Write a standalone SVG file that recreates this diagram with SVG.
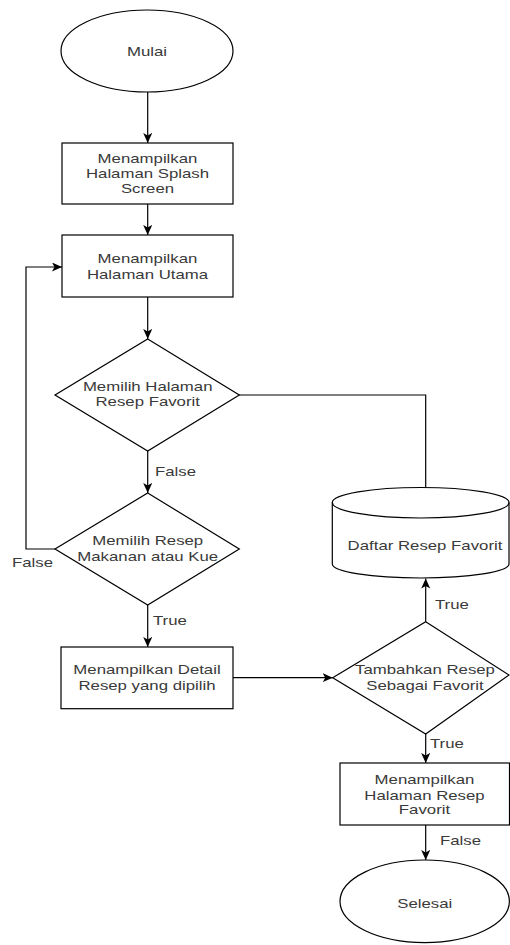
<svg xmlns="http://www.w3.org/2000/svg" width="510" height="945" viewBox="0 0 510 945">
<defs>
<marker id="arr" markerUnits="userSpaceOnUse" markerWidth="12" markerHeight="10" refX="10" refY="4.5" orient="auto">
<path d="M0,0 L10,4.5 L0,9 L2.5,4.5 Z" fill="#000"/>
</marker>
<style>
.s{fill:#fff;stroke:#000;stroke-width:1.2}
.c{fill:none;stroke:#000;stroke-width:1.2}
.a{marker-end:url(#arr)}
.t{font-family:"Liberation Sans",Arial,sans-serif;font-size:12px;fill:#3a3a3a;text-anchor:middle}
.l{font-family:"Liberation Sans",Arial,sans-serif;font-size:12px;fill:#3a3a3a;text-anchor:start}
</style>
</defs>
<rect width="510" height="945" fill="#fff"/>
<g id="connectors">
<path class="c a" d="M147.7,92 V143"/>
<path class="c a" d="M147.7,204 V235"/>
<path class="c a" d="M147.7,297 V339"/>
<path class="c a" d="M147.7,451 V493"/>
<path class="c a" d="M55,549 H26 V267 H62"/>
<path class="c" d="M239,395 H425.7 V487"/>
<path class="c a" d="M147.7,605 V647"/>
<path class="c a" d="M233,677.7 H332.7"/>
<path class="c a" d="M425.7,621.7 V578.5"/>
<path class="c a" d="M425.7,734 V763"/>
<path class="c a" d="M425.7,825 V860"/>
<text class="l" transform="matrix(1.4 0 0 1 155 0)" x="0" y="475.6">False</text>
<text class="l" transform="matrix(1.4 0 0 1 12 0)" x="0" y="567">False</text>
<text class="l" transform="matrix(1.4 0 0 1 153 0)" x="0" y="624.6">True</text>
<text class="l" transform="matrix(1.4 0 0 1 435 0)" x="0" y="609.3">True</text>
<text class="l" transform="matrix(1.4 0 0 1 430 0)" x="0" y="748">True</text>
<text class="l" transform="matrix(1.4 0 0 1 440 0)" x="0" y="844.8">False</text>
</g>
<g id="mulai">
<ellipse class="s" cx="147" cy="51" rx="86" ry="41"/>
<text class="t" transform="matrix(1.4 0 0 1 147 0)" x="0" y="56">Mulai</text>
</g>
<g id="splash">
<rect class="s" x="62" y="143" width="171" height="61"/>
<text class="t" transform="matrix(1.4 0 0 1 147.5 0)" x="0" y="163.5">Menampilkan</text>
<text class="t" transform="matrix(1.4 0 0 1 147.5 0)" x="0" y="178.5">Halaman Splash</text>
<text class="t" transform="matrix(1.4 0 0 1 147.5 0)" x="0" y="193.5">Screen</text>
</g>
<g id="utama">
<rect class="s" x="62" y="235" width="171" height="62"/>
<text class="t" transform="matrix(1.4 0 0 1 147.5 0)" x="0" y="263.5">Menampilkan</text>
<text class="t" transform="matrix(1.4 0 0 1 147.5 0)" x="0" y="279">Halaman Utama</text>
</g>
<g id="pilihFavorit">
<polygon class="s" points="147.7,339 239.3,395 147.7,451 55,395"/>
<text class="t" transform="matrix(1.4 0 0 1 147.7 0)" x="0" y="391.5">Memilih Halaman</text>
<text class="t" transform="matrix(1.4 0 0 1 147.7 0)" x="0" y="406.3">Resep Favorit</text>
</g>
<g id="pilihResep">
<polygon class="s" points="147.7,493 239.3,549 147.7,605 55,549"/>
<text class="t" transform="matrix(1.4 0 0 1 147.7 0)" x="0" y="545.5">Memilih Resep</text>
<text class="t" transform="matrix(1.4 0 0 1 147.7 0)" x="0" y="561.5">Makanan atau Kue</text>
</g>
<g id="daftarFavorit">
<path class="s" d="M332.3,502.5 A88.3,15 0 0,1 509,502.5 V564 A88.3,14 0 0,1 332.3,564 Z"/>
<path class="c" d="M332.3,502.5 A88.3,15.5 0 0,0 509,502.5"/>
<text class="t" transform="matrix(1.4 0 0 1 425 0)" x="0" y="550.3">Daftar Resep Favorit</text>
</g>
<g id="detail">
<rect class="s" x="61" y="647" width="172" height="61.7"/>
<text class="t" transform="matrix(1.4 0 0 1 147 0)" x="0" y="674.3">Menampilkan Detail</text>
<text class="t" transform="matrix(1.4 0 0 1 147 0)" x="0" y="690.3">Resep yang dipilih</text>
</g>
<g id="tambahFavorit">
<polygon class="s" points="425.7,621.7 509,675 425.7,734 332.7,677.7"/>
<text class="t" transform="matrix(1.4 0 0 1 425 0)" x="0" y="674.3">Tambahkan Resep</text>
<text class="t" transform="matrix(1.4 0 0 1 425 0)" x="0" y="690.3">Sebagai Favorit</text>
</g>
<g id="halamanFavorit">
<rect class="s" x="340" y="763" width="169.5" height="62"/>
<text class="t" transform="matrix(1.4 0 0 1 424.5 0)" x="0" y="784">Menampilkan</text>
<text class="t" transform="matrix(1.4 0 0 1 424.5 0)" x="0" y="799.6">Halaman Resep</text>
<text class="t" transform="matrix(1.4 0 0 1 424.5 0)" x="0" y="814.3">Favorit</text>
</g>
<g id="selesai">
<ellipse class="s" cx="424.7" cy="901.3" rx="84.7" ry="41.3"/>
<text class="t" transform="matrix(1.4 0 0 1 424.7 0)" x="0" y="908.1">Selesai</text>
</g>
</svg>
